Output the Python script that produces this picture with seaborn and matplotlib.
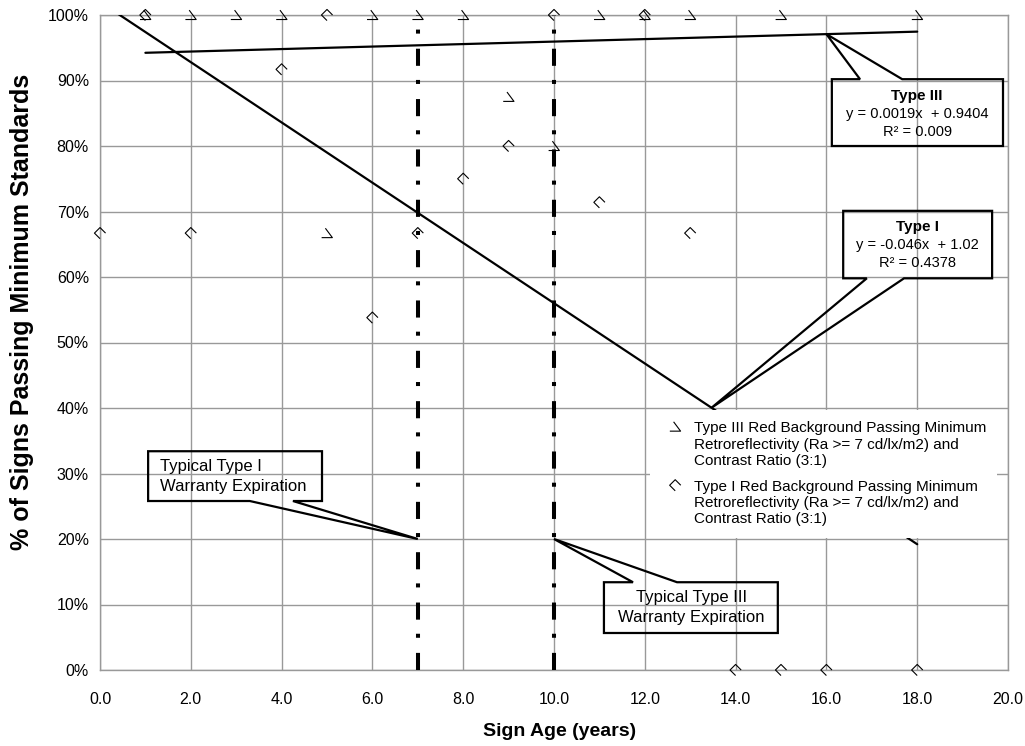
import numpy as np
import pandas as pd
import matplotlib
matplotlib.use("Agg")
import matplotlib.pyplot as plt
from matplotlib.path import Path
from matplotlib.patches import Polygon
from matplotlib.ticker import FixedLocator, PercentFormatter, StrMethodFormatter
import seaborn as sns

# ---------------- data ----------------
type1_age = [0, 1, 2, 4, 5, 6, 7, 8, 9, 10, 11, 12, 13, 14, 15, 16, 18]
type1_pass = [0.667, 1.0, 0.667, 0.917, 1.0, 0.538, 0.667, 0.75, 0.80, 1.0,
              0.714, 1.0, 0.667, 0.0, 0.0, 0.0, 0.0]
type3_age = [1, 2, 3, 4, 5, 6, 7, 8, 9, 10, 11, 12, 13, 15, 18]
type3_pass = [1.0, 1.0, 1.0, 1.0, 0.667, 1.0, 1.0, 1.0, 0.875, 0.80,
              1.0, 1.0, 1.0, 1.0, 1.0]

type1_slope, type1_intercept, type1_r2 = -0.046, 1.02, 0.4378
type3_slope, type3_intercept, type3_r2 = 0.0019, 0.9404, 0.009

warranty_type1 = 7
warranty_type3 = 10
warranty_label_y = 0.20

x_ticks = list(range(0, 21, 2))
y_ticks = [i / 10 for i in range(11)]

type3_label = ("Type III Red Background Passing Minimum\n"
               "Retroreflectivity (Ra >= 7 cd/lx/m2) and\nContrast Ratio (3:1)")
type1_label = ("Type I Red Background Passing Minimum\n"
               "Retroreflectivity (Ra >= 7 cd/lx/m2) and\nContrast Ratio (3:1)")

df1 = pd.DataFrame({"age": type1_age, "pass": type1_pass})
df3 = pd.DataFrame({"age": type3_age, "pass": type3_pass})

# ---------------- style ----------------
sns.set_style("whitegrid")
plt.rcParams["font.family"] = ["Liberation Sans", "DejaVu Sans"]
plt.rcParams["text.color"] = "black"
plt.rcParams["axes.labelcolor"] = "black"
plt.rcParams["xtick.color"] = "black"
plt.rcParams["ytick.color"] = "black"

fig = plt.figure(figsize=(10.25, 7.46), dpi=100)
ax = fig.add_axes([100 / 1025, 1 - 670 / 746, 908 / 1025, 655 / 746])

GRID = "#999999"
ax.grid(True, color=GRID, linewidth=1.0)
for s in ax.spines.values():
    s.set_visible(True)
    s.set_color(GRID)
    s.set_linewidth(1.0)

# custom open markers (as rendered in the reference)
type3_marker = Path([(-0.5, -0.42), (0.5, -0.42), (-0.15, 0.45)],
                    [Path.MOVETO, Path.LINETO, Path.LINETO])
type1_marker = Path([(0.5, 0.0), (0.0, 0.5), (-0.5, 0.0), (0.0, -0.5)],
                    [Path.MOVETO, Path.LINETO, Path.LINETO, Path.LINETO])

# trend lines
t1x = np.array([min(type1_age), max(type1_age)], dtype=float)
t3x = np.array([min(type3_age), max(type3_age)], dtype=float)
sns.lineplot(x=t1x, y=type1_slope * t1x + type1_intercept, ax=ax,
             color="black", linewidth=1.6, estimator=None, sort=False, zorder=3)
sns.lineplot(x=t3x, y=type3_slope * t3x + type3_intercept, ax=ax,
             color="black", linewidth=1.6, estimator=None, sort=False, zorder=3)

# warranty lines
for wx in (warranty_type1, warranty_type3):
    ax.axvline(wx, color="black", linewidth=2.9,
               linestyle=(0, (4.25, 3.75, 1.0, 3.5)), zorder=3)

# scatter points
sns.scatterplot(data=df3, x="age", y="pass", ax=ax, marker=type3_marker, s=60,
                facecolor="none", edgecolor="black", linewidth=0.8,
                label=type3_label, zorder=4, clip_on=False)
sns.scatterplot(data=df1, x="age", y="pass", ax=ax, marker=type1_marker, s=64,
                facecolor="none", edgecolor="black", linewidth=0.8,
                label=type1_label, zorder=4, clip_on=False)

ax.set_xlim(0, 20)
ax.set_ylim(0, 1)
ax.xaxis.set_major_locator(FixedLocator(x_ticks))
ax.yaxis.set_major_locator(FixedLocator(y_ticks))
ax.xaxis.set_major_formatter(StrMethodFormatter("{x:.1f}"))
ax.yaxis.set_major_formatter(PercentFormatter(1.0, decimals=0))
ax.tick_params(axis="both", which="major", direction="out", length=4,
               width=1.0, color=GRID, labelsize=11.5, labelcolor="black", pad=4)
ax.tick_params(axis="x", pad=12)

xl = ax.set_xlabel("Sign Age (years)", fontsize=14, fontweight="bold")
xl.set_va("center")
ax.xaxis.set_label_coords((560 - 100) / 908, (670 - 732) / 655)
yl = ax.set_ylabel("% of Signs Passing Minimum Standards", fontsize=18,
                   fontweight="bold")
yl.set_va("center")
ax.yaxis.set_label_coords((22 - 100) / 908, (670 - 312) / 655)

# legend
leg = ax.legend(loc="upper left", bbox_to_anchor=((650 - 100) / 908, (670 - 410) / 655),
                borderaxespad=0, frameon=True, fancybox=False, framealpha=1,
                facecolor="white", edgecolor="none", fontsize=11,
                handlelength=1.8, handletextpad=0.3, labelspacing=0.8,
                borderpad=0.75, scatteryoffsets=[2.2])
leg.set_zorder(5)


# callouts
def callout(box, base, apex, side):
    x0, x1, y0, y1 = box
    b1, b2 = base
    if side == "bottom":
        verts = [(x0, y1), (x1, y1), (x1, y0), (b2, y0), apex, (b1, y0), (x0, y0)]
    else:
        verts = [(x0, y0), (x0, y1), (b1, y1), apex, (b2, y1), (x1, y1), (x1, y0)]
    ax.add_patch(Polygon(verts, closed=True, fill=False, edgecolor="black",
                         linewidth=1.6, joinstyle="miter", zorder=6))


# Type III regression callout
apex3 = (16.0, type3_slope * 16.0 + type3_intercept)
callout((16.12, 19.89, 0.800, 0.902), (16.74, 17.67), apex3, "top")
ax.text(18.0, 0.876, "Type III", ha="center", va="center", fontsize=11,
        fontweight="bold", zorder=7)
ax.text(18.0, 0.849, f"y = {type3_slope}x  + {type3_intercept}", ha="center",
        va="center", fontsize=10.5, zorder=7)
ax.text(18.0, 0.821, f"R² = {type3_r2}", ha="center", va="center",
        fontsize=10.5, zorder=7)

# Type I regression callout
ax1x = 13.47
apex1 = (ax1x, type1_slope * ax1x + type1_intercept)
callout((16.37, 19.65, 0.598, 0.701), (16.89, 17.71), apex1, "bottom")
ax.text(18.0, 0.676, "Type I", ha="center", va="center", fontsize=11,
        fontweight="bold", zorder=7)
ax.text(18.0, 0.649, f"y = {type1_slope}x  + {type1_intercept}", ha="center",
        va="center", fontsize=10.5, zorder=7)
ax.text(18.0, 0.621, f"R² = {type1_r2}", ha="center", va="center",
        fontsize=10.5, zorder=7)

# warranty callouts
callout((1.06, 4.89, 0.258, 0.334), (3.30, 4.25),
        (warranty_type1, warranty_label_y), "bottom")
ax.text(1.32, 0.296, "Typical Type I\nWarranty Expiration", ha="left",
        va="center", fontsize=12, linespacing=1.42, zorder=7)

callout((11.10, 14.93, 0.0565, 0.134), (11.74, 12.71),
        (warranty_type3, warranty_label_y), "top")
ax.text(13.02, 0.096, "Typical Type III\nWarranty Expiration", ha="center",
        va="center", fontsize=12, linespacing=1.42, zorder=7)

fig.savefig("out.png", dpi=100)
